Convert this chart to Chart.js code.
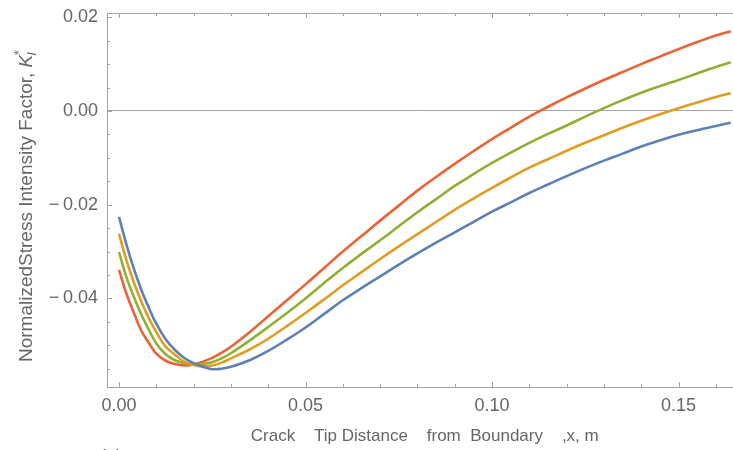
<!DOCTYPE html>
<html>
<head>
<meta charset="utf-8">
<script src="https://cdn.jsdelivr.net/npm/chart.js@4.4.0/dist/chart.umd.min.js"></script>
<style>
  html, body { margin: 0; padding: 0; background: #ffffff; }
  #wrap { width: 733px; height: 450px; }
</style>
</head>
<body>
<div id="wrap"><canvas id="chart" width="733" height="450"></canvas></div>
<script>
// Crack tip distance from boundary, x (m)
const crackX = [0, 0.002, 0.004, 0.006, 0.008, 0.010, 0.0125, 0.015, 0.0175, 0.02, 0.0225,
  0.025, 0.0275, 0.03, 0.035, 0.04, 0.045, 0.05, 0.055, 0.06, 0.065, 0.07, 0.075, 0.08,
  0.085, 0.09, 0.095, 0.10, 0.105, 0.11, 0.115, 0.12, 0.125, 0.13, 0.135, 0.14, 0.145,
  0.15, 0.155, 0.16, 0.164];

// Normalized stress intensity factor K_I* for the four cases
const kCase1 = [-0.0226, -0.0285, -0.0337, -0.0382, -0.0420, -0.0454, -0.0487, -0.0510, -0.0527,
  -0.0538, -0.0546, -0.0551, -0.0550, -0.0546, -0.0532, -0.0512, -0.0488, -0.0462, -0.0433,
  -0.0404, -0.0378, -0.0353, -0.0328, -0.0304, -0.0281, -0.0259, -0.0237, -0.0215, -0.0195,
  -0.0175, -0.0157, -0.0139, -0.0122, -0.0106, -0.0091, -0.0076, -0.0063, -0.0051, -0.0041,
  -0.0032, -0.0025];
const kCase2 = [-0.0262, -0.0319, -0.0366, -0.0407, -0.0442, -0.0472, -0.0503, -0.0520, -0.0535,
  -0.0542, -0.0545, -0.0543, -0.0537, -0.0528, -0.0509, -0.0486, -0.0459, -0.0431, -0.0402,
  -0.0372, -0.0344, -0.0316, -0.0289, -0.0263, -0.0237, -0.0211, -0.0187, -0.0164, -0.0142,
  -0.0121, -0.0103, -0.0085, -0.0068, -0.0052, -0.0036, -0.0021, -0.0007, 0.0006, 0.0018,
  0.0030, 0.0038];
const kCase3 = [-0.0301, -0.0355, -0.0397, -0.0435, -0.0467, -0.0496, -0.0519, -0.0532, -0.0538,
  -0.0541, -0.0540, -0.0536, -0.0528, -0.0517, -0.0490, -0.0461, -0.0431, -0.0400, -0.0367,
  -0.0335, -0.0305, -0.0276, -0.0246, -0.0216, -0.0188, -0.0160, -0.0135, -0.0111, -0.0089,
  -0.0068, -0.0049, -0.0031, -0.0012, 0.0006, 0.0023, 0.0039, 0.0053, 0.0066, 0.0080,
  0.0094, 0.0104];
const kCase4 = [-0.0339, -0.0390, -0.0431, -0.0469, -0.0495, -0.0518, -0.0533, -0.0540, -0.0543,
  -0.0541, -0.0535, -0.0527, -0.0516, -0.0503, -0.0472, -0.0438, -0.0404, -0.0370, -0.0335,
  -0.0300, -0.0267, -0.0234, -0.0202, -0.0170, -0.0141, -0.0113, -0.0086, -0.0060, -0.0036,
  -0.0012, 0.0009, 0.0029, 0.0048, 0.0066, 0.0083, 0.0100, 0.0116, 0.0132, 0.0147,
  0.0161, 0.0170];

const seriesColors = ['#5e81b5', '#e19c24', '#8fb032', '#eb6235'];

const xTickValues = [0, 0.05, 0.10, 0.15];
const xTickLabels = ['0.00', '0.05', '0.10', '0.15'];
const yTickValues = [-0.04, -0.02, 0, 0.02];
const yTickLabels = ['\u2212\u20090.04', '\u2212\u20090.02', '0.00', '0.02'];

const xTitle = '  Crack    Tip Distance    from  Boundary    ,x, m';
const yTitleMain = 'NormalizedStress Intensity Factor, ';

const FONT = '"Liberation Sans", Arial, sans-serif';
const AXIS_GRAY = '#a3a3a3';
const TEXT_GRAY = '#666666';

function toPoints(ys) {
  return crackX.map((x, i) => ({ x: x, y: ys[i] }));
}

// Inward-pointing major/minor ticks, top frame line, rotated y title and caption
const framePlugin = {
  id: 'frame',
  afterDraw(chart) {
    const { ctx, chartArea } = chart;
    const xs = chart.scales.x, ys = chart.scales.y;
    ctx.save();
    ctx.strokeStyle = AXIS_GRAY;
    ctx.lineWidth = 1;
    ctx.beginPath();
    ctx.moveTo(chartArea.left, chartArea.top + 0.5);
    ctx.lineTo(chartArea.right, chartArea.top + 0.5);
    for (let i = 0; i <= 16; i++) {
      const v = i / 100;
      const px = Math.round(xs.getPixelForValue(v)) + 0.5;
      const len = (i % 5 === 0) ? 5 : 3;
      ctx.moveTo(px, chartArea.bottom);
      ctx.lineTo(px, chartArea.bottom - len);
      ctx.moveTo(px, chartArea.top);
      ctx.lineTo(px, chartArea.top + len);
    }
    for (let i = -11; i <= 4; i++) {
      const v = i * 0.005;
      const py = Math.round(ys.getPixelForValue(v)) + 0.5;
      if (py < chartArea.top || py > chartArea.bottom) continue;
      const len = (i % 4 === 0) ? 5 : 3;
      ctx.moveTo(chartArea.left, py);
      ctx.lineTo(chartArea.left + len, py);
    }
    ctx.stroke();

    // y-axis title with italic K, subscript I and superscript *
    ctx.fillStyle = TEXT_GRAY;
    ctx.translate(32, 362);
    ctx.rotate(-Math.PI / 2);
    ctx.textBaseline = 'alphabetic';
    ctx.textAlign = 'left';
    ctx.font = '19px ' + FONT;
    ctx.fillText(yTitleMain, 0, 0);
    let w = ctx.measureText(yTitleMain).width;
    ctx.font = 'italic 19px ' + FONT;
    ctx.fillText('K', w, 0);
    w += ctx.measureText('K').width;
    ctx.font = 'italic 13px ' + FONT;
    ctx.fillText('I', w - 1, 4);
    ctx.fillText('*', w - 1, -9);
    ctx.restore();

    ctx.save();
    ctx.fillStyle = TEXT_GRAY;
    ctx.font = '18px ' + FONT;
    ctx.textBaseline = 'top';
    ctx.fillText('(a)', 100, 448);
    ctx.restore();
  }
};

const datasets = [kCase1, kCase2, kCase3, kCase4].map((ys, i) => ({
  label: 'Case ' + (i + 1),
  data: toPoints(ys),
  borderColor: seriesColors[i],
  borderWidth: 2.6,
  pointRadius: 0,
  showLine: true,
  fill: false,
  tension: 0.4
}));

new Chart(document.getElementById('chart'), {
  type: 'scatter',
  data: { datasets: datasets },
  options: {
    responsive: false,
    animation: false,
    devicePixelRatio: 1,
    layout: { padding: { top: 13, left: 0, right: 0, bottom: 0 } },
    plugins: { legend: { display: false }, tooltip: { enabled: false } },
    scales: {
      x: {
        type: 'linear',
        position: 'bottom',
        min: -0.00322,
        max: 0.1646,
        afterFit: s => { s.height = 63; },
        afterBuildTicks: s => { s.ticks = xTickValues.map(v => ({ value: v })); },
        ticks: {
          callback: (v, i) => xTickLabels[i],
          font: { family: FONT, size: 18 },
          color: TEXT_GRAY,
          padding: 8,
          maxRotation: 0,
          autoSkip: false
        },
        grid: { display: false, drawTicks: false },
        border: { display: true, color: AXIS_GRAY, width: 1 },
        title: {
          display: true,
          text: xTitle,
          font: { family: FONT, size: 17 },
          color: TEXT_GRAY,
          padding: { top: 0, bottom: 3 }
        }
      },
      y: {
        type: 'linear',
        position: 'left',
        min: -0.0589,
        max: 0.0209,
        afterFit: s => { s.width = 107; },
        afterBuildTicks: s => { s.ticks = yTickValues.map(v => ({ value: v })); },
        ticks: {
          callback: (v, i) => yTickLabels[i],
          font: { family: FONT, size: 18, lineHeight: 0.4 },
          color: TEXT_GRAY,
          padding: 9,
          autoSkip: false
        },
        grid: {
          display: true,
          drawOnChartArea: true,
          drawTicks: false,
          lineWidth: 1,
          color: c => (c.tick && c.tick.value === 0) ? AXIS_GRAY : 'rgba(0,0,0,0)'
        },
        border: { display: true, color: AXIS_GRAY, width: 1 }
      }
    }
  },
  plugins: [framePlugin]
});
</script>
</body>
</html>
